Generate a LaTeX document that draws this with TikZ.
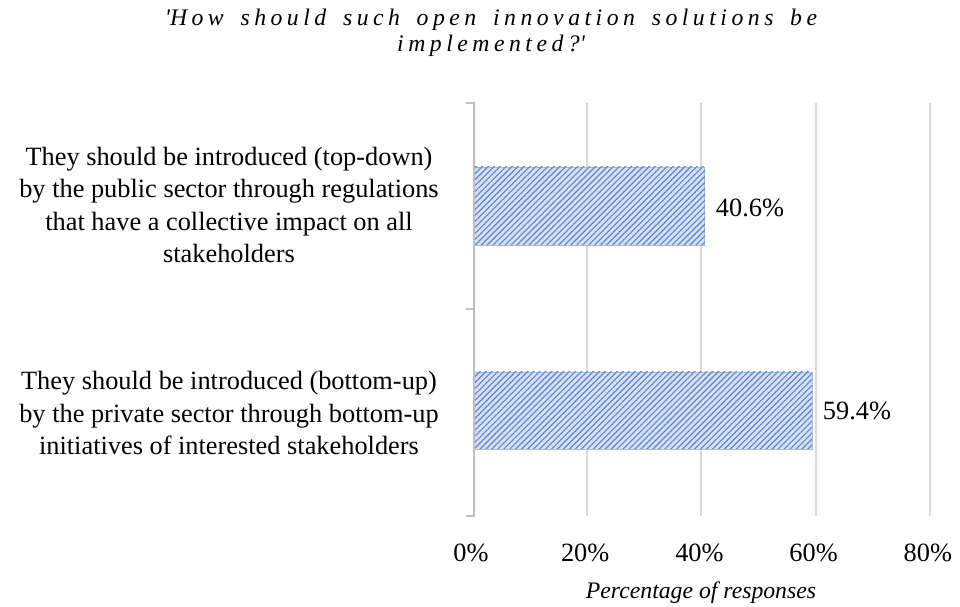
\documentclass[tikz,border=0pt]{standalone}
\usepackage{fontspec}
\setmainfont{Liberation Serif}
\newfontfamily\titlefont[LetterSpace=19,WordSpace=1.6]{Liberation Serif}
\usetikzlibrary{patterns.meta}

\definecolor{barfill}{HTML}{D6E0F5}
\definecolor{barline}{HTML}{4A78CC}
\definecolor{gridgray}{HTML}{D9D9D9}
\definecolor{axisgray}{HTML}{BFBFBF}

\begin{document}
\begin{tikzpicture}[x=0.02cm,y=-0.02cm,
	catlabel/.style={align=center,font=\fontsize{15}{18.4}\selectfont},
	ticklabel/.style={font=\fontsize{15}{18}\selectfont},
	bar/.style={draw=barline!50,line width=0.4pt,fill=barfill,
		postaction={pattern={Lines[angle=45,distance=2.4pt,line width=0.65pt]},pattern color=barline!90}}]
	\useasboundingbox (0,0) rectangle (960,607);
	% title
	\node[align=center,font=\titlefont\itshape\fontsize{13.5}{14.7}\selectfont] (title) at (491,33)
	{\textquotesingle How should such open innovation solutions be\\implemented?\textquotesingle};
	% grid
	\foreach \p in {20,40,60,80}{
		\draw[gridgray,line width=1.1pt] ({473+5.71*\p},103) -- ({473+5.71*\p},516);
	}
	% bars
	\draw[bar] (474,167) rectangle ({473+5.71*40.6},245);
	\draw[bar] (474,372) rectangle ({473+5.71*59.4},449);
	% axis
	\draw[axisgray,line width=1.7pt] (466,103) -- (474,103) -- (474,516) -- (466,516);
	\draw[axisgray,line width=1.7pt] (466,309) -- (474,309);
	% categories
	\node[catlabel] (topdown) at (229,205) {They should be introduced (top-down)\\by the public sector through regulations\\that have a collective impact on all\\stakeholders};
	\node[catlabel] (bottomup) at (229,413) {They should be introduced (bottom-up)\\by the private sector through bottom-up\\initiatives of interested stakeholders};
	% values
	\node[ticklabel] (val1) at (750,208) {40.6\%};
	\node[ticklabel] (val2) at (857,411) {59.4\%};
	% x axis
	\foreach \p in {0,20,40,60,80}{
		\node[ticklabel] (tick\p) at ({471+5.71*\p},553) {\p\%};
	}
	\node[font=\itshape\fontsize{13.5}{16}\selectfont] (xtitle) at (701,593) {Percentage of responses};
\end{tikzpicture}
\end{document}
